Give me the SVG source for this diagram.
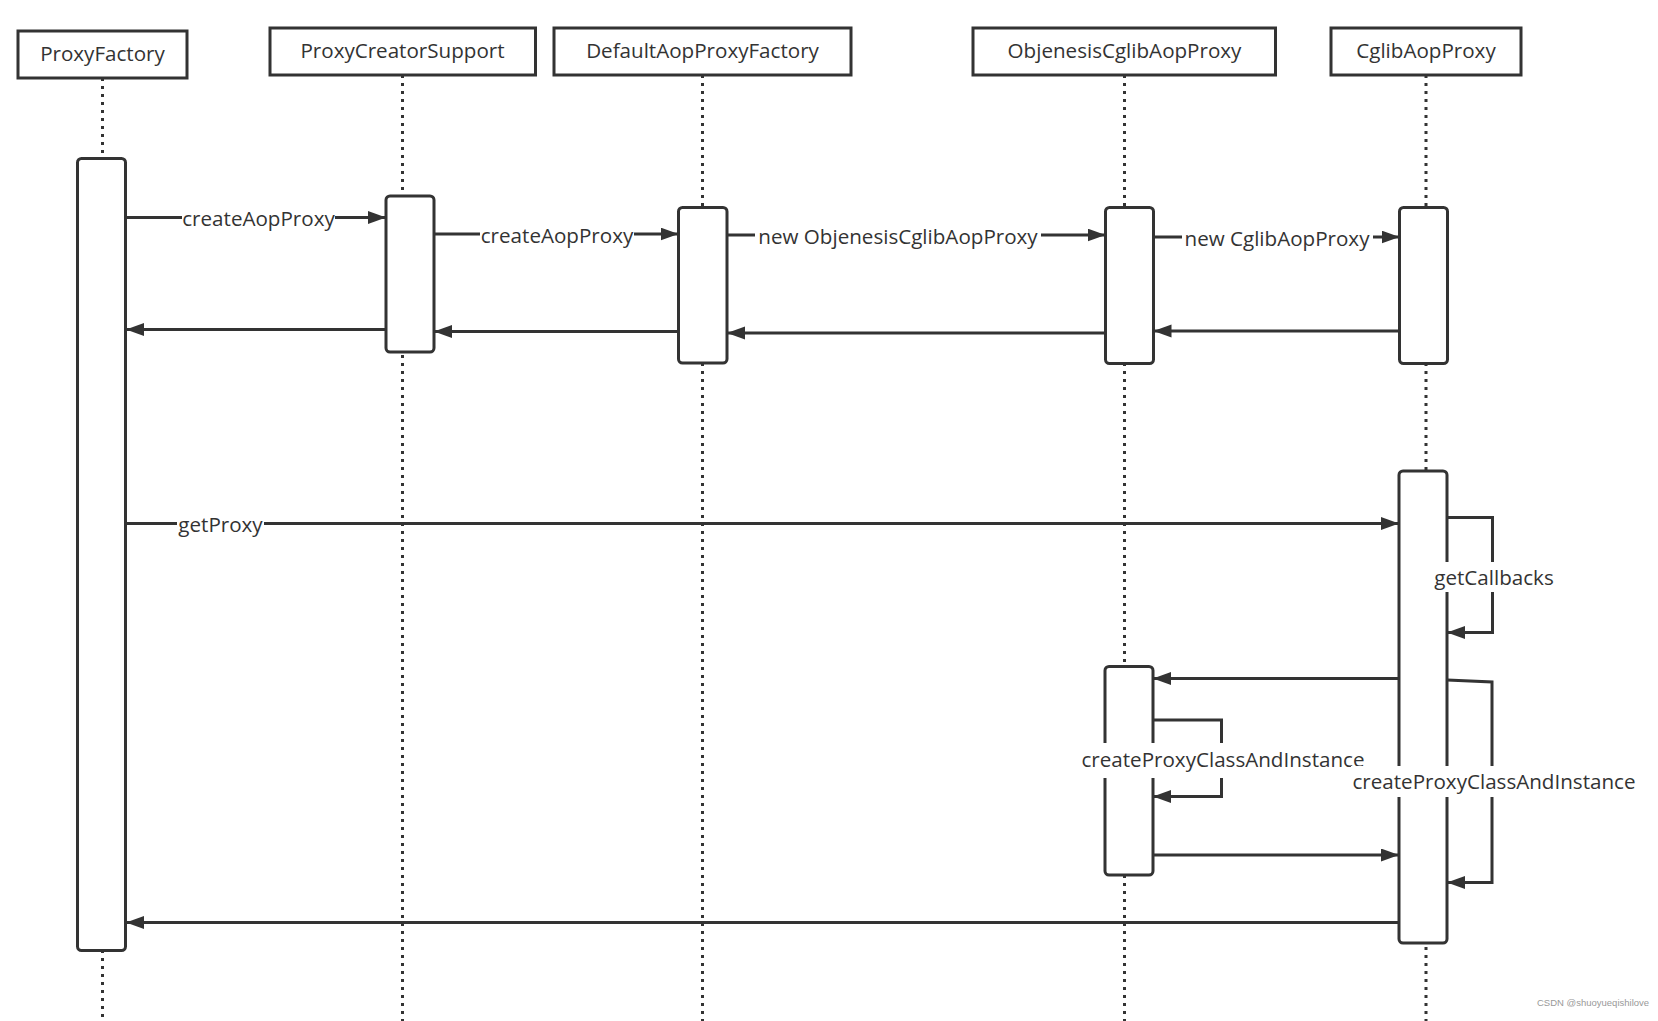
<svg xmlns="http://www.w3.org/2000/svg" width="1658" height="1021" viewBox="0 0 1658 1021">
<style>
.bg{fill:#fff}
.life{stroke:#333;stroke-width:3;stroke-dasharray:3 5;fill:none}
.head{fill:#fff;stroke:#333;stroke-width:3}
.bar{fill:#fff;stroke:#333;stroke-width:3}
.msg{stroke:#333;stroke-width:3;fill:none;marker-end:url(#arr)}
.t{font-family:"Open Sans","Noto Sans","Liberation Sans",sans-serif;font-size:20.6px;fill:#333;text-anchor:middle}
.lb{fill:#fff}
.wm{font-family:"Liberation Sans",Arial,sans-serif;font-size:9.5px;fill:#999}
</style>
<defs>
<marker id="arr" markerUnits="userSpaceOnUse" markerWidth="20" markerHeight="14" refX="18" refY="6.5" orient="auto">
<path d="M0,0 L18,6.5 L0,13 z" fill="#333"/>
</marker>
</defs>
<rect class="bg" x="0" y="0" width="1658" height="1021"/>

<g id="lifelines">
<line class="life" x1="102.5" y1="78" x2="102.5" y2="1021"/>
<line class="life" x1="402.5" y1="75" x2="402.5" y2="1021"/>
<line class="life" x1="702.5" y1="75" x2="702.5" y2="1021"/>
<line class="life" x1="1124.5" y1="75" x2="1124.5" y2="1021"/>
<line class="life" x1="1426" y1="75" x2="1426" y2="1021"/>
</g>

<g id="ProxyFactory">
<rect class="head" x="18" y="31" width="169" height="47"/>
<text class="t" x="102.5" y="61">ProxyFactory</text>
<rect class="bar" x="77.5" y="158.5" width="48" height="792" rx="4"/>
</g>
<g id="ProxyCreatorSupport">
<rect class="head" x="270" y="28" width="265.5" height="47"/>
<text class="t" x="402.5" y="58">ProxyCreatorSupport</text>
<rect class="bar" x="386" y="196" width="48" height="156" rx="4"/>
</g>
<g id="DefaultAopProxyFactory">
<rect class="head" x="554" y="28" width="297" height="47"/>
<text class="t" x="702.5" y="58">DefaultAopProxyFactory</text>
<rect class="bar" x="678.5" y="207.5" width="48.5" height="155.5" rx="4"/>
</g>
<g id="ObjenesisCglibAopProxy">
<rect class="head" x="973" y="28" width="302.5" height="47"/>
<text class="t" x="1124.5" y="58">ObjenesisCglibAopProxy</text>
<rect class="bar" x="1105.5" y="207.5" width="48" height="156" rx="4"/>
<rect class="bar" x="1105" y="666.5" width="48" height="208.5" rx="4"/>
</g>
<g id="CglibAopProxy">
<rect class="head" x="1331" y="28" width="190" height="47"/>
<text class="t" x="1426" y="58">CglibAopProxy</text>
<rect class="bar" x="1399.5" y="207.5" width="48" height="156" rx="4"/>
<rect class="bar" x="1399" y="471" width="48" height="472" rx="4"/>
</g>

<g id="connectors">
<line class="msg" x1="126" y1="217.5" x2="386" y2="217.5"/>
<line class="msg" x1="434" y1="234" x2="678.5" y2="234"/>
<line class="msg" x1="727" y1="235" x2="1105.5" y2="235"/>
<line class="msg" x1="1153.5" y1="237" x2="1399.5" y2="237"/>
<line class="msg" x1="386" y1="329.5" x2="126" y2="329.5"/>
<line class="msg" x1="678.5" y1="331.5" x2="434" y2="331.5"/>
<line class="msg" x1="1105.5" y1="333" x2="727" y2="333"/>
<line class="msg" x1="1399.5" y1="331" x2="1153.5" y2="331"/>
<line class="msg" x1="126" y1="523.5" x2="1399" y2="523.5"/>
<path class="msg" d="M1447,517.5 H1492.5 V632.5 H1447"/>
<line class="msg" x1="1399" y1="678.5" x2="1153" y2="678.5"/>
<path class="msg" d="M1153,720 H1221.5 V796.5 H1153"/>
<line class="msg" x1="1153" y1="855" x2="1399" y2="855"/>
<path class="msg" d="M1447,680 L1492,682 V882.5 H1447"/>
<line class="msg" x1="1399" y1="922.5" x2="126" y2="922.5"/>

<rect class="lb" x="182" y="205" width="153" height="28"/>
<text class="t" x="258.5" y="226">createAopProxy</text>
<rect class="lb" x="480" y="221" width="154" height="28"/>
<text class="t" x="557" y="243">createAopProxy</text>
<rect class="lb" x="755" y="222" width="286" height="28"/>
<text class="t" x="898" y="244">new ObjenesisCglibAopProxy</text>
<rect class="lb" x="1182" y="224" width="191" height="28"/>
<text class="t" x="1277" y="246">new CglibAopProxy</text>
<rect class="lb" x="177" y="510" width="87" height="28"/>
<text class="t" x="220.5" y="532">getProxy</text>
<rect class="lb" x="1431" y="562" width="126" height="30"/>
<text class="t" x="1494" y="585">getCallbacks</text>
<rect class="lb" x="1081" y="743" width="284" height="35"/>
<text class="t" x="1223" y="767">createProxyClassAndInstance</text>
<rect class="lb" x="1351" y="766" width="286" height="31"/>
<text class="t" x="1494" y="789">createProxyClassAndInstance</text>
</g>

<text class="wm" x="1537" y="1006">CSDN @shuoyueqishilove</text>
</svg>
